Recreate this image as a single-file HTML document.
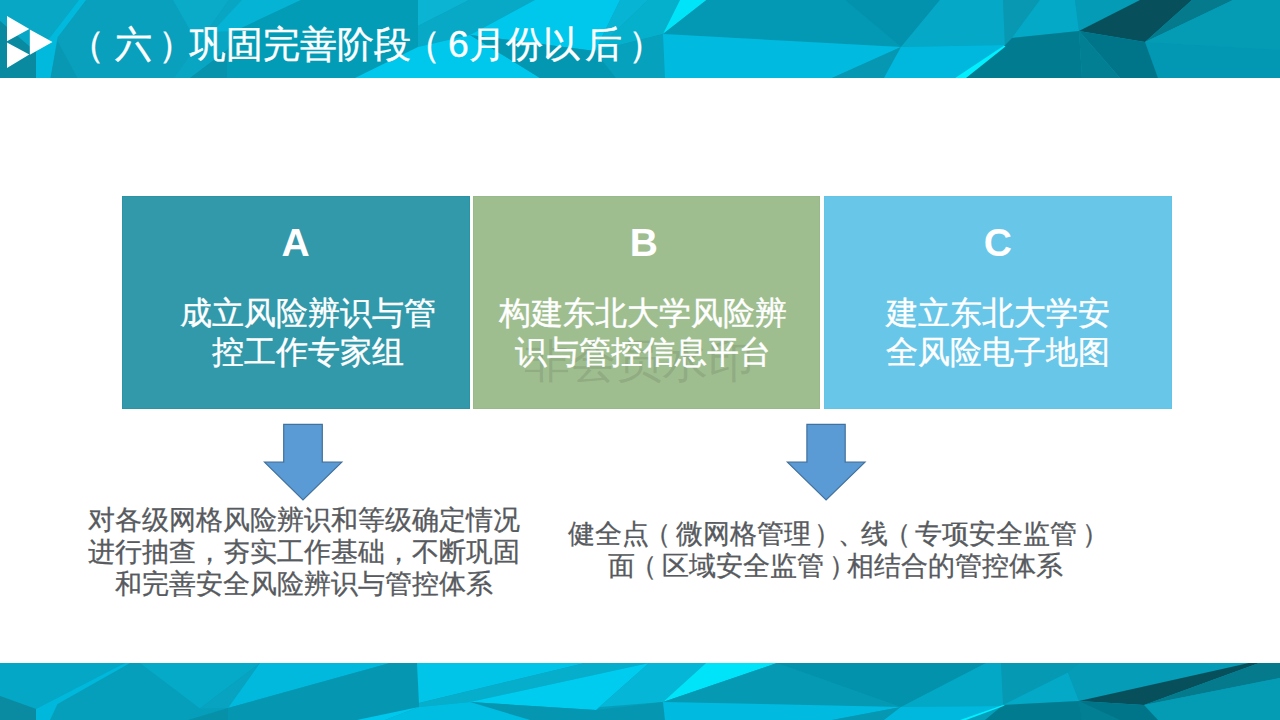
<!DOCTYPE html>
<html><head><meta charset="utf-8">
<style>
html,body{margin:0;padding:0;}
body{width:1280px;height:720px;position:relative;overflow:hidden;background:#fff;font-family:"Liberation Sans",sans-serif;}
svg{position:absolute;left:0;top:0;display:block;}
.hdr{left:0;top:0;}
.ftr{left:0;top:663px;}
.title{position:absolute;left:78px;top:22px;color:#fff;-webkit-text-stroke:0.4px #fff;font-size:37.33px;line-height:44px;white-space:nowrap;}
.box{position:absolute;top:196px;height:213px;}
.L{position:absolute;color:#fff;font-size:39px;font-weight:bold;line-height:44px;text-align:center;white-space:nowrap;}
.t{position:absolute;color:#fff;-webkit-text-stroke:0.4px #fff;font-size:32px;line-height:39px;text-align:center;white-space:nowrap;}
.b{position:absolute;color:#575a5e;-webkit-text-stroke:0.3px #575a5e;font-size:26.67px;line-height:32px;text-align:center;white-space:nowrap;}
.wm{position:absolute;color:rgba(70,80,70,0.16);font-size:46px;line-height:50px;text-align:center;white-space:nowrap;}
</style></head><body>
<svg class="hdr" width="1280" height="78" viewBox="0 0 1280 78"><polygon fill="#08a0bc" points="0,0 1280,0 1280,78 0,78"/><polygon fill="#08a7c5" points="0,0 79,0 50,37.5 36,52 0,21"/><polygon fill="#0a8aa1" points="0,21 36,52 36,78 0,78"/><polygon fill="#00b9dd" points="79,0 86,0 57.5,37.5 50.6,78 36,78 36,52 50,37.5"/><polygon fill="#0898b3" points="57.5,41 77.5,78 50.6,78"/><polygon fill="#0aabc8" points="173,0 229,0 198,44"/><polygon fill="#08a6c3" points="229,0 301,0 235,31 227,50 190,78 174,78"/><polygon fill="#05b3d4" points="242,0 301,0 235,31 212,32"/><polygon fill="#0793ab" points="190,78 227,50 227,78"/><polygon fill="#039cb7" points="301,0 418,0 418,47 355,78 227,78 227,50 235,31"/><polygon fill="#0bb4d2" points="418,0 469,0 418,26"/><polygon fill="#08a9c7" points="418,26 469,0 535,0 470,35 418,47"/><polygon fill="#00c8ec" points="355,78 418,47 470,35 535,0 620,0 595,51 470,35 540,78"/><polygon fill="#08b4d3" points="620,0 648,0 595,51"/><polygon fill="#05b0cd" points="648,0 680,0 663,34 595,51"/><polygon fill="#0397b2" points="470,35 595,51 616,78 540,78"/><polygon fill="#06a1bc" points="595,51 663,34 665,78 616,78"/><polygon fill="#00e4fa" points="680,0 706.5,0 663,34"/><polygon fill="#0399b4" points="706.5,0 845,0 901,47 663,34"/><polygon fill="#00bae0" points="663,34 901,47 832,78 665,78"/><polygon fill="#0392ad" points="845,0 940,0 901,47"/><polygon fill="#05a8c6" points="940,0 1003,0 1005,45 901,47"/><polygon fill="#0698b3" points="832,78 901,47 884,78"/><polygon fill="#00b8de" points="901,47 1005,45 955,78 884,78"/><polygon fill="#0898b2" points="1003,0 1040,0 1012,38 1005,45"/><polygon fill="#03a9c7" points="1040,0 1075,0 1079,31 1012,38"/><polygon fill="#039bb5" points="1075,0 1140,0 1079,31"/><polygon fill="#064f5b" points="1079,31 1140,0 1192,0 1145,42"/><polygon fill="#047a8c" points="1192,0 1233,0 1145,42"/><polygon fill="#049bb5" points="1233,0 1280,0 1280,50 1145,42"/><polygon fill="#0297b3" points="1145,42 1280,50 1280,78 1158,78"/><polygon fill="#00758a" points="1079,31 1145,42 1158,78 1120,78"/><polygon fill="#027f93" points="1079,31 1120,78 1082,78"/><polygon fill="#007b90" points="1012,38 1079,31 1082,78 963,78 1005,45"/><polygon fill="#00f0ff" points="1004,45.5 1005.5,46.5 966,78 955,78"/></svg>
<svg width="60" height="78" viewBox="0 0 60 78" style="left:0;top:0">
<polygon points="7,16 29.3,29 7,41.3" fill="#fff"/>
<polygon points="29.8,29.4 52.5,42 29.8,54.7" fill="#fff"/>
<polygon points="7,42.5 29.3,54.5 7,68" fill="#fff"/>
</svg>
<div class="title"><span style="position:relative;left:-10px">（</span>六<span style="position:relative;left:6px">）</span>巩固完善阶段<span style="position:relative;left:-7px">（</span>6月份以<span style="position:relative;left:5px">后</span><span style="position:relative;left:11px">）</span></div>
<div class="box" style="left:122px;width:348px;background:#3299ab;box-shadow:inset 0 0 0 1px #2a93a6;"></div>
<div class="box" style="left:473px;width:347px;background:#9fbe8f;box-shadow:inset 0 0 0 1px #98b988;"></div>
<div class="box" style="left:824px;width:348px;background:#68c6e8;box-shadow:inset 0 0 0 1px #62c4e7;"></div>
<div class="L" style="left:245.5px;top:221px;width:100px">A</div>
<div class="L" style="left:593.9px;top:221px;width:100px">B</div>
<div class="L" style="left:947.8px;top:221px;width:100px">C</div>
<div class="t" style="left:87.7px;top:294px;width:440px">成立风险辨识与管</div>
<div class="t" style="left:87.7px;top:333px;width:440px">控工作专家组</div>
<div class="wm" style="left:439px;top:336px;width:400px">非会员水印</div>
<div class="t" style="left:423.3px;top:294px;width:440px">构建东北大学风险辨</div>
<div class="t" style="left:423.3px;top:333px;width:440px">识与管控信息平台</div>
<div class="t" style="left:778px;top:294px;width:440px">建立东北大学安</div>
<div class="t" style="left:778px;top:333px;width:440px">全风险电子地图</div>
<svg width="1280" height="720" viewBox="0 0 1280 720" style="left:0;top:0">
<polygon fill="#5b9bd5" stroke="#41719c" stroke-width="1.2" stroke-linejoin="miter" points="283.7,424.4 322.3,424.4 322.3,462.2 341.8,462.2 303,500 264.5,462.2 283.7,462.2"/>
<polygon fill="#5b9bd5" stroke="#41719c" stroke-width="1.2" stroke-linejoin="miter" points="806.9,424.4 845.2,424.4 845.2,462.2 865,462.2 826.1,500 787.4,462.2 806.9,462.2"/>
</svg>
<div class="b" style="left:88px;top:504px;width:432px;">对各级网格风险辨识和等级确定情况<br>进行抽查，夯实工作基础，不断巩固<br>和完善安全风险辨识与管控体系</div>
<div class="b" style="left:568px;top:518px;width:530px;">健全点<span style="position:relative;left:-5px">（</span>微网格管理<span style="position:relative;left:3px">）</span>、<span style="position:relative;left:-4px">线<span style="position:relative;left:-4px">（</span>专项安全监管<span style="position:relative;left:5px">）</span></span><br><span style="position:relative;left:4px">面<span style="position:relative;left:-5px">（</span>区域安全监管<span style="position:relative;left:5px">）</span></span>相结合的管控体系</div>
<svg class="ftr" width="1280" height="57" viewBox="0 0 1280 57"><polygon fill="#069fbb" points="0,0 1280,0 1280,57 0,57"/><polygon fill="#04a8c6" points="0,0 125,0 36,46 0,33"/><polygon fill="#0a8ba2" points="0,33 36,46 36,57 0,57"/><polygon fill="#00b8dc" points="125,0 130,0 57.5,41 50,57 36,57 36,46"/><polygon fill="#05aac8" points="140,0 260,0 200,45.5"/><polygon fill="#07a3c0" points="260,0 228,45 200,45.5"/><polygon fill="#00b9dd" points="260,0 390,0 228,45"/><polygon fill="#0597b2" points="228,45 390,0 417,0 419,44 357,57 228,57"/><polygon fill="#0791a9" points="188,57 228,45 228,57"/><polygon fill="#00c8ec" points="357,57 419,44 385,57"/><polygon fill="#00c4e8" points="417,0 585,0 419,40"/><polygon fill="#07aecb" points="419,40 585,0 649,0 642,1.5 470,39 419,44"/><polygon fill="#00ccf0" points="470,39 649,0 596,47"/><polygon fill="#06b6d6" points="649,0 706,0 663,39 600,44 596,47"/><polygon fill="#0597b1" points="470,39 596,47 663,39 665,57 530,57"/><polygon fill="#00bde2" points="385,57 419,44 470,39 530,57"/><polygon fill="#00e4fa" points="706,0 777,0 663,39"/><polygon fill="#0599b4" points="777,0 901,44 663,39"/><polygon fill="#0292ab" points="777,0 986,0 901,44"/><polygon fill="#00bae0" points="663,39 901,44 832,57 665,57"/><polygon fill="#0698b3" points="832,57 901,44 884,57"/><polygon fill="#03a8c6" points="901,44 986,0 1001,0 1004,43"/><polygon fill="#00b8dd" points="901,44 1004,43 962,57 884,57"/><polygon fill="#0599b4" points="1001,0 1080,0 1068,9.5 1003,42"/><polygon fill="#03a9c7" points="1003,42 1068,9.5 1079,38"/><polygon fill="#049cb7" points="1080,0 1249,0 1079,38 1068,9.5"/><polygon fill="#064f5b" points="1079,38 1249,0 1259,0 1144,42"/><polygon fill="#047a8c" points="1144,42 1259,0 1280,0 1280,15"/><polygon fill="#049bb5" points="1144,42 1280,15 1280,57 1158,57"/><polygon fill="#007b90" points="1003,42 1079,38 1082,57 985,57"/><polygon fill="#00758a" points="1079,38 1144,42 1158,57 1082,57"/><polygon fill="#027f93" points="1079,38 1120,57 1082,57"/><polygon fill="#00f0ff" points="1003,42 1005,42.5 966,57 960,57"/></svg>
</body></html>
